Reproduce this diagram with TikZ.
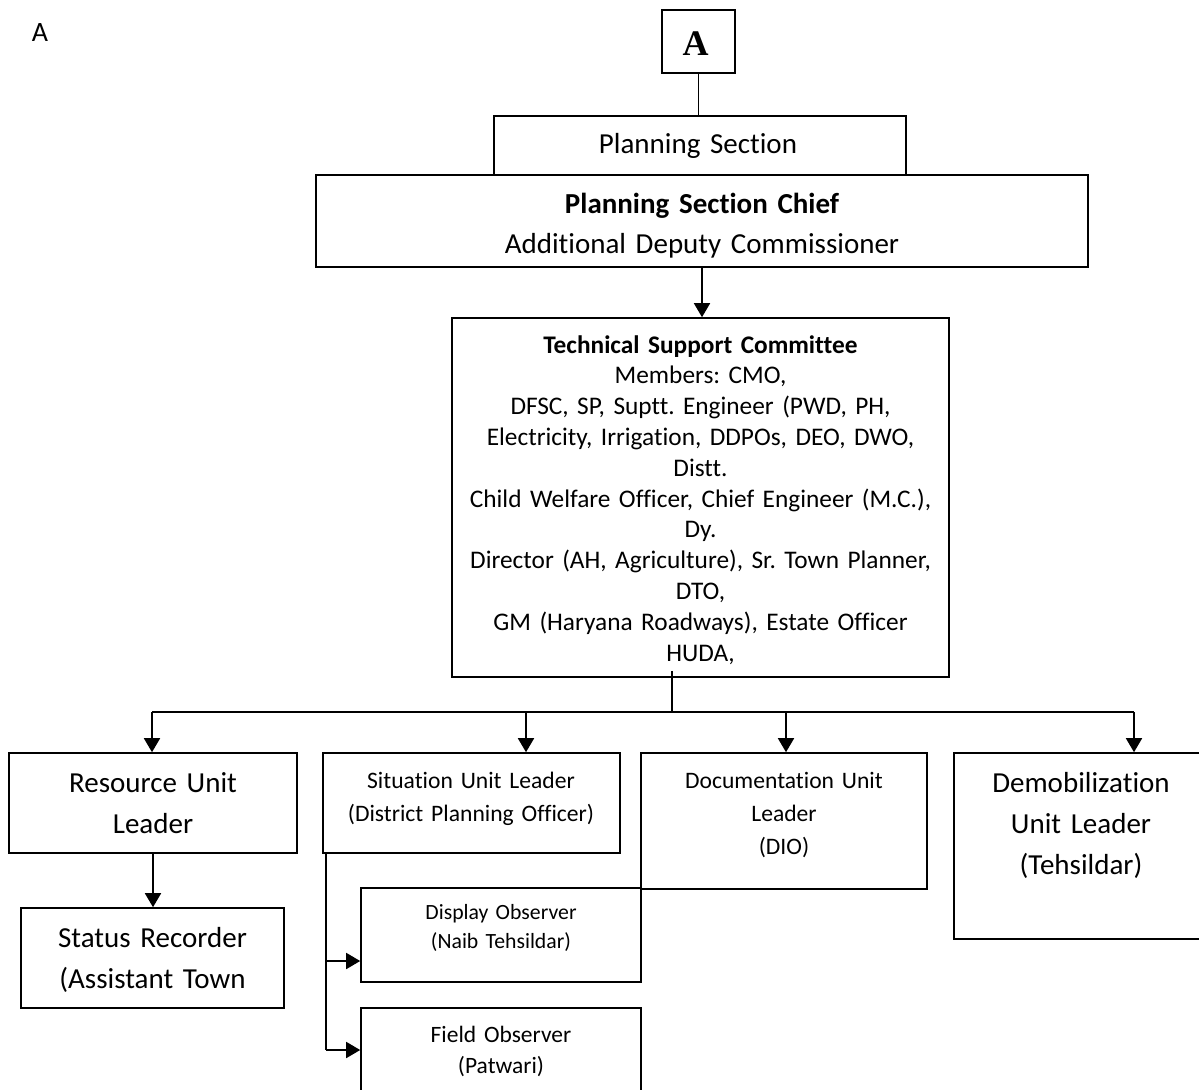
\documentclass[tikz,border=0pt]{standalone}
\usepackage{fontspec}
\setmainfont{Carlito}[Ligatures={NoCommon}]
\newfontfamily\timesface{Liberation Serif}
\usetikzlibrary{arrows.meta,fit}
\frenchspacing

\tikzset{
  box/.style={draw, line width=1.2pt, inner sep=0pt},
  conn/.style={line width=1.3pt},
  arr/.style={conn, -{Triangle[width=12pt,length=10.5pt]}},
  lbl/.style={anchor=base, inner sep=0pt, align=center, text width=#1},
  lbl/.default=400pt,
  fbig/.style={font=\fontsize{21.75pt}{30.75pt}\selectfont},
  fchief/.style={font=\fontsize{21.75pt}{30pt}\selectfont},
  ftsc/.style={font=\fontsize{19pt}{23.1pt}\selectfont},
  fsit/.style={font=\fontsize{17.7pt}{24.75pt}\selectfont},
  fdisp/.style={font=\fontsize{16.3pt}{21.75pt}\selectfont},
  ffield/.style={font=\fontsize{17.6pt}{23.25pt}\selectfont},
}

\begin{document}
\begin{tikzpicture}[x=0.75pt,y=-0.75pt]
\useasboundingbox (0,0) rectangle (1199,1089);
\clip (0,0) rectangle (1199,1089);

% corner letter
\node[lbl=60pt, font=\fontsize{21pt}{25pt}\selectfont] (corner) at (40,41) {A};

% top of the chart
\node[box, fit={(662,10) (735,73)}] (abox) {};
\node[anchor=base, inner sep=0pt, font=\timesface\bfseries\fontsize{27pt}{30pt}\selectfont] (aletter) at (695.5,55) {A};

\node[box, fit={(494,116) (906,175)}] (ps) {};
\node[lbl, fbig] (pstext) at (698,153) {Planning Section};

\node[box, fit={(316,175) (1088,267)}] (chief) {};
\node[lbl=560pt, fchief] (chieftext) at (702,213) {\textbf{Planning Section Chief}\\Additional Deputy Commissioner};

% committee
\node[box, fit={(452,318) (949,677)}] (tsc) {};
\node[lbl=480pt, ftsc] (tsctext) at (700.5,353) {\textbf{Technical Support Committee}\\Members: CMO,\\DFSC, SP, Suptt. Engineer (PWD, PH,\\Electricity, Irrigation, DDPOs, DEO, DWO,\\Distt.\\Child Welfare Officer, Chief Engineer (M.C.),\\Dy.\\Director (AH, Agriculture), Sr. Town Planner,\\DTO,\\GM (Haryana Roadways), Estate Officer\\HUDA,};

% unit leaders
\node[box, fit={(9,753) (297,853)}] (res) {};
\node[lbl, fbig] (restext) at (153,792) {Resource Unit\\Leader};

\node[box, fit={(323,753) (620,853)}] (sit) {};
\node[lbl, fsit] (sittext) at (471,788) {Situation Unit Leader\\(District Planning Officer)};

\node[box, fit={(641,753) (927,889)}] (doc) {};
\node[lbl, fsit] (doctext) at (784,788) {Documentation Unit\\Leader\\(DIO)};

\node[box, fit={(954,753) (1208,939)}] (dem) {};
\node[lbl, fbig] (demtext) at (1081,792) {Demobilization\\Unit Leader\\(Tehsildar)};

% lower level
\node[box, fit={(21,908) (284,1008)}] (stat) {};
\node[lbl, fbig] (stattext) at (152.5,947) {Status Recorder\\(Assistant Town};

\node[box, fit={(361,888) (641,982)}] (disp) {};
\node[lbl, fdisp] (disptext) at (501,919) {Display Observer\\(Naib Tehsildar)};

\node[box, fit={(361,1008) (641,1092)}] (field) {};
\node[lbl, ffield] (fieldtext) at (501,1042) {Field Observer\\(Patwari)};

% connectors
\draw[conn] (abox.south) -- (abox.south |- ps.north);
\draw[arr] (chief.south) -- (chief.south |- tsc.north);

\coordinate (hub) at (672,712);
\draw[conn] ([yshift=5.25pt]tsc.south -| hub) -- (hub);
\coordinate (b1) at (152,712);
\coordinate (b2) at (526,712);
\coordinate (b3) at (786,712);
\coordinate (b4) at (1134,712);
\draw[conn] (b1) -- (b4);
\draw[arr] (b1) -- (b1 |- res.north);
\draw[arr] (b2) -- (b2 |- sit.north);
\draw[arr] (b3) -- (b3 |- doc.north);
\draw[arr] (b4) -- (b4 |- dem.north);

\draw[arr] (res.south) -- (res.south |- stat.north);

\coordinate (dy) at (0,961);
\draw[conn] ([xshift=3pt]sit.south west) coordinate (stem) -- (stem |- field.west);
\draw[arr] (stem |- dy) -- (disp.west |- dy);
\draw[arr] (stem |- field.west) -- (field.west);
\end{tikzpicture}
\end{document}
